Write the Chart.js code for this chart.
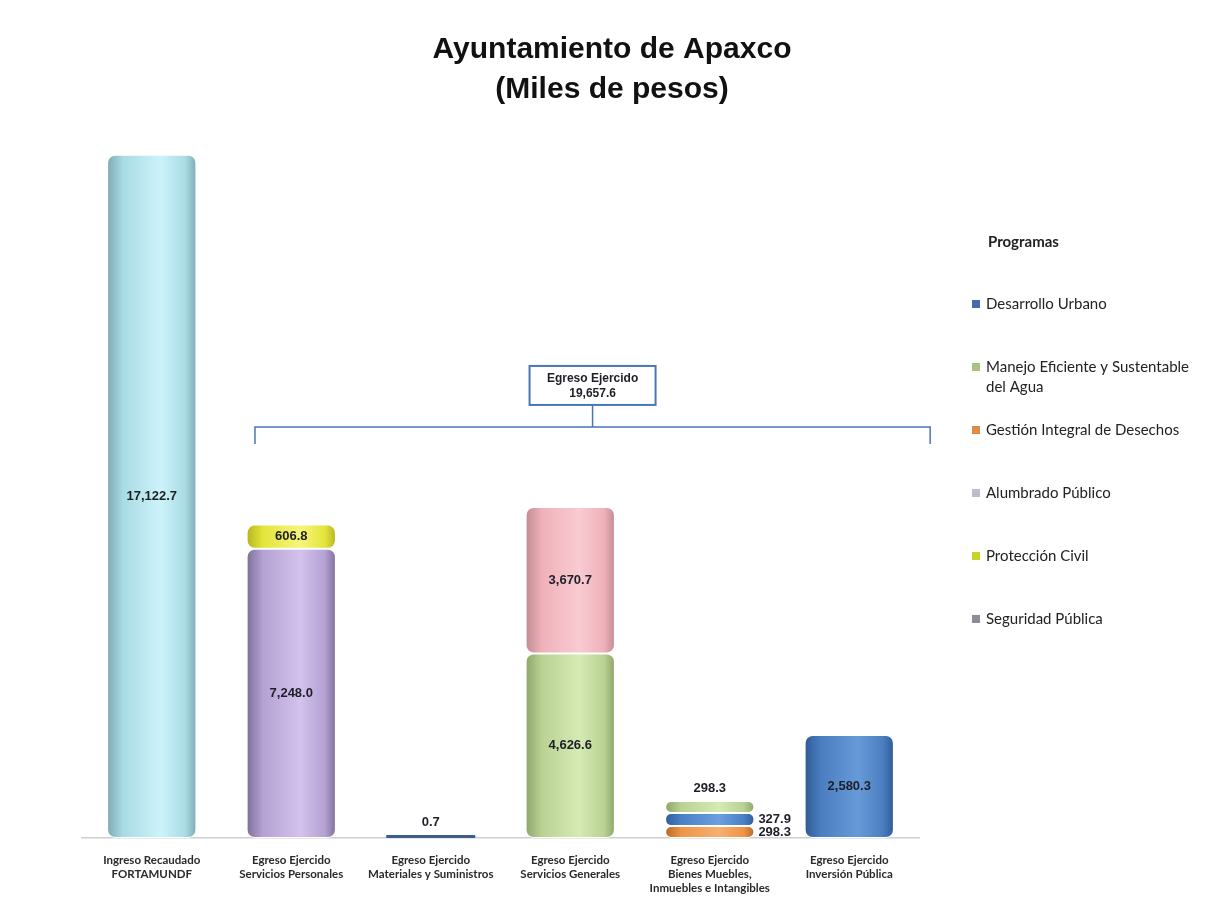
<!DOCTYPE html>
<html>
<head>
<meta charset="utf-8">
<script src="https://cdn.jsdelivr.net/npm/chart.js@4.4.0/dist/chart.umd.min.js"></script>
<style>
  html, body { margin: 0; background: #fff; }
  #wrap { width: 1206px; height: 907px; }
</style>
</head>
<body>
<div id="wrap"><canvas id="grafica"></canvas></div>
<script>
// categorias del eje x
const categories = [
  ['Ingreso Recaudado', 'FORTAMUNDF'],
  ['Egreso Ejercido', 'Servicios Personales'],
  ['Egreso Ejercido', 'Materiales y Suministros'],
  ['Egreso Ejercido', 'Servicios Generales'],
  ['Egreso Ejercido', 'Bienes Muebles,', 'Inmuebles e Intangibles'],
  ['Egreso Ejercido', 'Inversión Pública']
];
// segmentos apilados (de abajo hacia arriba), miles de pesos
const ingreso       = [17122.7, null, null, null, null, null];
const servPersonal  = [null, 7248.0, null, null, null, null];
const servPersonal2 = [null, 606.8, null, null, null, null];
const materiales    = [null, null, 0.7, null, null, null];
const servGeneral   = [null, null, null, 4626.6, null, null];
const servGeneral2  = [null, null, null, 3670.7, null, null];
const bienes1       = [null, null, null, null, 298.3, null];
const bienes2       = [null, null, null, null, 327.9, null];
const bienes3       = [null, null, null, null, 298.3, null];
const inversion     = [null, null, null, null, null, 2580.3];
// leyenda
const programas = [
  'Desarrollo Urbano',
  ['Manejo Eficiente y Sustentable', 'del Agua'],
  'Gestión Integral de Desechos',
  'Alumbrado Público',
  'Protección Civil',
  'Seguridad Pública'
];
const programaColors = ['#3f6db0', '#a9c27e', '#dc8a45', '#bdbccb', '#c6d428', '#8c8c98'];

const BAR_PCT = 0.64;

// relleno tipo cilindro
function cyl(dark, base, light) {
  return (ctx) => {
    const chart = ctx.chart;
    const x = chart.scales.x;
    if (!chart.chartArea || !x) return base;
    const step = x.getPixelForValue(1) - x.getPixelForValue(0);
    const cx = x.getPixelForValue(ctx.dataIndex);
    const w = step * BAR_PCT;
    if (!isFinite(cx) || !isFinite(w) || w <= 0) return base;
    const g = chart.ctx.createLinearGradient(cx - w / 2, 0, cx + w / 2, 0);
    g.addColorStop(0, dark);
    g.addColorStop(0.18, base);
    g.addColorStop(0.6, light);
    g.addColorStop(0.88, base);
    g.addColorStop(1, dark);
    return g;
  };
}

function fmt(v) {
  return v.toLocaleString('en-US', { minimumFractionDigits: 1, maximumFractionDigits: 1 });
}

const valueLabels = {
  id: 'valueLabels',
  afterDatasetsDraw(chart) {
    const c = chart.ctx;
    c.save();
    c.font = 'bold 13px "Liberation Sans Narrow", "Arial Narrow", Arial, sans-serif';
    c.fillStyle = '#1e1e28';
    chart.data.datasets.forEach((ds, i) => {
      chart.getDatasetMeta(i).data.forEach((bar, j) => {
        const v = ds.values[j];
        if (v == null) return;
        let x = bar.x, y = (bar.y + bar.base) / 2;
        c.textAlign = 'center';
        c.textBaseline = 'middle';
        if (ds.labelAt === 'above') {
          y = bar.y - 13;
        } else if (ds.labelAt === 'right') {
          x = bar.x + bar.width / 2 + 4;
          c.textAlign = 'left';
        }
        c.fillText(fmt(v), x, y);
      });
    });
    c.restore();
  }
};

// titulo, llave de egreso y leyenda
const extras = {
  id: 'extras',
  afterDraw(chart) {
    const c = chart.ctx;
    const xs = chart.scales.x, ys = chart.scales.y;
    c.save();
    // titulo
    c.fillStyle = '#111';
    c.textAlign = 'center';
    c.textBaseline = 'middle';
    c.font = 'bold 30px "Liberation Sans", Arial, sans-serif';
    c.fillText('Ayuntamiento de Apaxco', 612, 50);
    c.fillText('(Miles de pesos)', 612, 90);

    // llave
    const egresoSets = chart.data.datasets.filter(d => d.egreso);
    let total = 0, maxStack = 0;
    for (let j = 1; j < categories.length; j++) {
      let s = 0;
      egresoSets.forEach(d => { if (d.values[j] != null) s += d.values[j]; });
      total += s;
      maxStack = Math.max(maxStack, s);
    }
    const step = xs.getPixelForValue(1) - xs.getPixelForValue(0);
    const left = xs.getPixelForValue(1) - 0.26 * step;
    const right = xs.getPixelForValue(5) + 0.58 * step;
    const by = ys.getPixelForValue(maxStack) - 80;
    const mid = (left + right) / 2;
    c.strokeStyle = '#4a76b4';
    c.lineWidth = 1.5;
    c.beginPath();
    c.moveTo(left, by + 17); c.lineTo(left, by); c.lineTo(right, by); c.lineTo(right, by + 17);
    c.moveTo(mid, by); c.lineTo(mid, by - 22);
    c.stroke();
    c.fillStyle = '#fff';
    c.fillRect(mid - 63, by - 61, 126, 39);
    c.lineWidth = 2;
    c.strokeRect(mid - 63, by - 61, 126, 39);
    c.fillStyle = '#1e1e28';
    c.font = 'bold 12px "Liberation Sans Narrow", "Arial Narrow", Arial, sans-serif';
    c.fillText('Egreso Ejercido', mid, by - 48);
    c.fillText(fmt(total), mid, by - 33);

    // leyenda
    c.textAlign = 'left';
    c.fillStyle = '#222';
    c.font = 'bold 15px Lato, "Open Sans", sans-serif';
    c.fillText('Programas', 988, 242);
    c.font = '15px Lato, "Open Sans", sans-serif';
    let ly = 304;
    programas.forEach((p, k) => {
      const lines = Array.isArray(p) ? p : [p];
      c.fillStyle = programaColors[k];
      c.fillRect(972, ly - 4, 8, 8);
      c.fillStyle = '#222';
      lines.forEach((t, n) => c.fillText(t, 986, ly + n * 20));
      ly += 63;
    });
    c.restore();
  }
};

const common = { grouped: false, borderRadius: 8, borderSkipped: false, borderColor: '#fff', borderWidth: 1,
                 barPercentage: BAR_PCT, categoryPercentage: 1 };

const segments = [
  { values: ingreso, backgroundColor: cyl('#7fa9b2', '#a9dbe4', '#cdf3fa') },
  { values: servPersonal, egreso: true, backgroundColor: cyl('#7e6e98', '#b3a2d2', '#d3c2ec') },
  { values: servPersonal2, egreso: true, backgroundColor: cyl('#b4b41e', '#e4e43c', '#f6f67a') },
  { values: materiales, egreso: true, labelAt: 'above', minBarLength: 3, borderRadius: 1, borderWidth: 0, backgroundColor: '#3a5f8c' },
  { values: servGeneral, egreso: true, backgroundColor: cyl('#8ea468', '#b9d293', '#d6eab4') },
  { values: servGeneral2, egreso: true, backgroundColor: cyl('#c08a92', '#efb1b9', '#f9cbd2') },
  { values: bienes1, egreso: true, labelAt: 'right', borderRadius: 6, backgroundColor: cyl('#b86a2a', '#ee9448', '#f6b070') },
  { values: bienes2, egreso: true, labelAt: 'right', borderRadius: 6, backgroundColor: cyl('#2f5c9a', '#4a80c6', '#6c9ee0') },
  { values: bienes3, egreso: true, labelAt: 'above', borderRadius: 6, backgroundColor: cyl('#8ea468', '#b9d293', '#d6eab4') },
  { values: inversion, egreso: true, backgroundColor: cyl('#2e5a96', '#4a7ec0', '#669ad8') }
];

// cada segmento como barra flotante [inicio, fin] para que todos tengan tapas redondeadas
const running = categories.map(() => 0);
const datasets = segments.map(s => ({
  ...common,
  ...s,
  data: s.values.map((v, j) => {
    if (v == null) return null;
    const r = [running[j], running[j] + v];
    running[j] += v;
    return r;
  })
}));

new Chart(document.getElementById('grafica'), {
  type: 'bar',
  data: { labels: categories, datasets },
  options: {
    responsive: true,
    maintainAspectRatio: false,
    animation: false,
    layout: { padding: { left: 82, right: 287, top: 40, bottom: 9 } },
    plugins: { legend: { display: false }, tooltip: { enabled: false }, title: { display: false } },
    scales: {
      x: {
        grid: { display: false },
        border: { display: true, color: '#cfcfcf', width: 1.5 },
        ticks: {
          color: '#2a2a2a',
          padding: 7,
          maxRotation: 0,
          autoSkip: false,
          font: { family: 'Lato, "Open Sans", sans-serif', size: 11.5, weight: 'bold', lineHeight: 1.22 }
        },
        afterFit(s) { s.height = 60; }
      },
      y: {
        display: false,
        min: 0,
        max: 20000
      }
    }
  },
  plugins: [valueLabels, extras]
});
</script>
</body>
</html>
